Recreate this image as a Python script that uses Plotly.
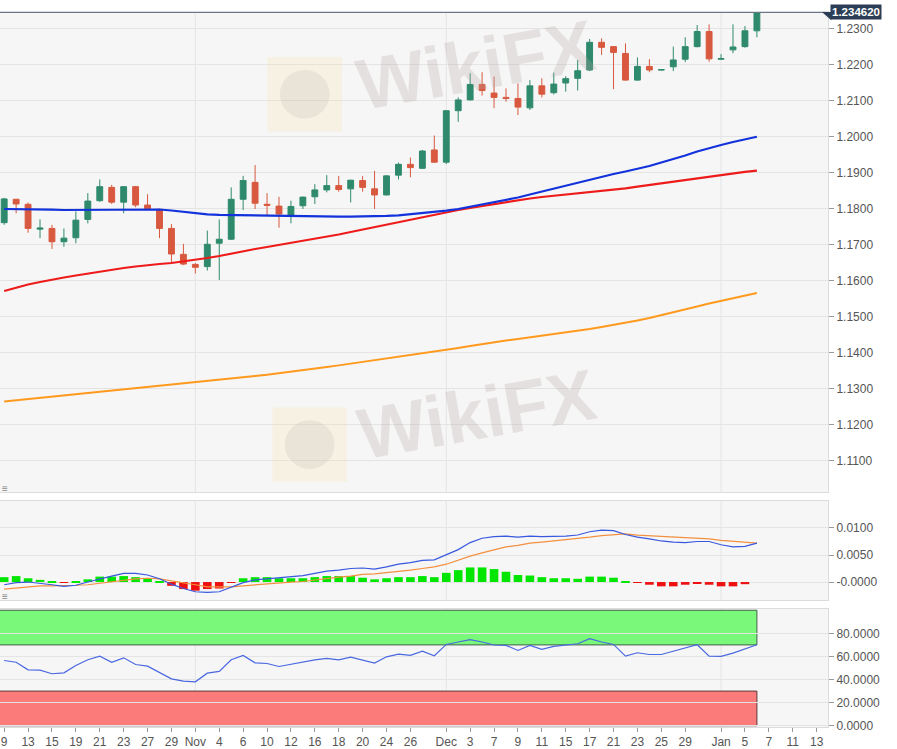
import pandas as pd
import plotly.graph_objects as go
from plotly.subplots import make_subplots

# trading days shown on the axis (weekdays, Oct 9 2020 .. Jan 14 2021)
days = pd.bdate_range("2020-10-09", "2021-01-14").strftime("%Y-%m-%d").tolist()

# EUR/USD daily candles, Oct 9 .. Jan 6
open_ = [1.1762, 1.1827, 1.1813, 1.1744, 1.1746, 1.1709, 1.1720, 1.1771, 1.1823, 1.1860,
         1.1819, 1.1862, 1.1811, 1.1799, 1.1746, 1.1674, 1.1646, 1.1640, 1.1705, 1.1716,
         1.1827, 1.1874, 1.1813, 1.1808, 1.1783, 1.1809, 1.1834, 1.1853, 1.1865, 1.1856,
         1.1879, 1.1856, 1.1839, 1.1894, 1.1924, 1.1913, 1.1964, 1.1930, 1.2073, 1.2103,
         1.2146, 1.2122, 1.2110, 1.2107, 1.2081, 1.2142, 1.2123, 1.2150, 1.2163, 1.2186,
         1.2263, 1.2251, 1.2232, 1.2158, 1.2196, 1.2186, 1.2195, 1.2216, 1.2251, 1.2293,
         1.2216, 1.2242, 1.2251, 1.2295]
high = [1.1831, 1.1828, 1.1818, 1.1771, 1.1756, 1.1746, 1.1793, 1.1844, 1.1882, 1.1867,
        1.1863, 1.1864, 1.1841, 1.1801, 1.1758, 1.1703, 1.1650, 1.1740, 1.1771, 1.1860,
        1.1892, 1.1922, 1.1844, 1.1834, 1.1823, 1.1834, 1.1869, 1.1894, 1.1892, 1.1881,
        1.1892, 1.1906, 1.1893, 1.1929, 1.1943, 1.1964, 1.2004, 1.2074, 1.2110, 1.2177,
        1.2180, 1.2168, 1.2135, 1.2149, 1.2158, 1.2163, 1.2179, 1.2169, 1.2214, 1.2272,
        1.2274, 1.2252, 1.2260, 1.2221, 1.2216, 1.2188, 1.2251, 1.2277, 1.2311, 1.2313,
        1.2230, 1.2313, 1.2308, 1.2349]
low = [1.1756, 1.1788, 1.1734, 1.1719, 1.1689, 1.1695, 1.1705, 1.1760, 1.1820, 1.1814,
       1.1788, 1.1805, 1.1797, 1.1719, 1.1652, 1.1644, 1.1621, 1.1629, 1.1603, 1.1714,
       1.1797, 1.1800, 1.1783, 1.1748, 1.1760, 1.1800, 1.1814, 1.1846, 1.1848, 1.1818,
       1.1848, 1.1800, 1.1838, 1.1882, 1.1888, 1.1911, 1.1929, 1.1925, 1.2042, 1.2102,
       1.2115, 1.2080, 1.2098, 1.2061, 1.2075, 1.2110, 1.2118, 1.2126, 1.2129, 1.2183,
       1.2228, 1.2133, 1.2157, 1.2156, 1.2180, 1.2185, 1.2183, 1.2208, 1.2249, 1.2209,
       1.2215, 1.2233, 1.2248, 1.2277]
close = [1.1828, 1.1814, 1.1746, 1.1747, 1.1709, 1.1719, 1.1769, 1.1822, 1.1862, 1.1819,
         1.1862, 1.1811, 1.1799, 1.1746, 1.1675, 1.1647, 1.1638, 1.1702, 1.1716, 1.1827,
         1.1879, 1.1816, 1.1810, 1.1786, 1.1807, 1.1833, 1.1853, 1.1865, 1.1854, 1.1880,
         1.1860, 1.1839, 1.1892, 1.1924, 1.1915, 1.1961, 1.1930, 1.2073, 1.2103, 1.2146,
         1.2129, 1.2110, 1.2107, 1.2083, 1.2142, 1.2119, 1.2147, 1.2162, 1.2184, 1.2263,
         1.2249, 1.2235, 1.2158, 1.2196, 1.2186, 1.2187, 1.2214, 1.2251, 1.2293, 1.2217,
         1.2218, 1.2250, 1.2295, 1.23462]

# moving averages drawn on the price panel
ma_blue = [1.1800, 1.1800, 1.17992, 1.17986, 1.17981, 1.17972, 1.17972, 1.17972, 1.17972, 1.17978,
           1.17986, 1.17992, 1.17992, 1.17986, 1.17958, 1.17917, 1.17875, 1.17853, 1.17839, 1.17833,
           1.17825, 1.17814, 1.17814, 1.17811, 1.17806, 1.17797, 1.17792, 1.17786, 1.17786, 1.17786,
           1.17786, 1.17792, 1.17806, 1.17825, 1.17853, 1.17889, 1.17922, 1.17953, 1.18000, 1.18064,
           1.18125, 1.18186, 1.18250, 1.18319, 1.18403, 1.18486, 1.18569, 1.18653, 1.18742, 1.18825,
           1.18903, 1.18972, 1.19042, 1.19117, 1.19194, 1.19292, 1.19381, 1.19486, 1.19597, 1.19694,
           1.19778, 1.19861, 1.19936, 1.20008]
ma_red = [1.15722, 1.15819, 1.15903, 1.15972, 1.16042, 1.16097, 1.16153, 1.16208, 1.16264, 1.16319,
          1.16361, 1.16403, 1.16444, 1.16472, 1.16500, 1.16542, 1.16597, 1.16639, 1.16694, 1.16764,
          1.16833, 1.16889, 1.16944, 1.17000, 1.17056, 1.17111, 1.17167, 1.17222, 1.17292, 1.17361,
          1.17431, 1.17500, 1.17569, 1.17639, 1.17708, 1.17778, 1.17847, 1.17917, 1.17972, 1.18028,
          1.18083, 1.18139, 1.18194, 1.18250, 1.18292, 1.18333, 1.18367, 1.18397, 1.18428, 1.18458,
          1.18494, 1.18533, 1.18575, 1.18619, 1.18667, 1.18714, 1.18758, 1.18806, 1.18853, 1.18903,
          1.18958, 1.19000, 1.19033, 1.19064]
ma_orange = [1.12653, 1.12686, 1.12722, 1.12756, 1.12792, 1.12825, 1.12861, 1.12894, 1.12931, 1.12964,
             1.12994, 1.13025, 1.13056, 1.13089, 1.13122, 1.13156, 1.13189, 1.13222, 1.13256, 1.13289,
             1.13322, 1.13358, 1.13397, 1.13436, 1.13478, 1.13519, 1.13564, 1.13608, 1.13656, 1.13703,
             1.13750, 1.13797, 1.13844, 1.13892, 1.13939, 1.13983, 1.14028, 1.14083, 1.14139, 1.14194,
             1.14250, 1.14297, 1.14344, 1.14389, 1.14433, 1.14478, 1.14522, 1.14567, 1.14617, 1.14667,
             1.14722, 1.14778, 1.14839, 1.14903, 1.14972, 1.15047, 1.15125, 1.15208, 1.15292, 1.15375,
             1.15450, 1.15522, 1.15594, 1.15667]

# MACD panel
macd = [-0.0005, -0.0001, 0.0000, -0.0002, -0.0005, -0.0008, -0.0006, 0.0000, 0.0006, 0.0011,
        0.0016, 0.0016, 0.0013, 0.0006, -0.0004, -0.0012, -0.0018, -0.0019, -0.0018, -0.0010,
        -0.0001, 0.0004, 0.0006, 0.0007, 0.0009, 0.0012, 0.0016, 0.0020, 0.0022, 0.0025,
        0.0026, 0.0024, 0.0028, 0.0033, 0.0036, 0.0040, 0.0041, 0.0050, 0.0060, 0.0073,
        0.0081, 0.0084, 0.0085, 0.0083, 0.0085, 0.0084, 0.0084, 0.0085, 0.0087, 0.0093,
        0.0096, 0.0095, 0.0088, 0.0083, 0.0080, 0.0076, 0.0074, 0.0073, 0.0075, 0.0075,
        0.0069, 0.0065, 0.0066, 0.0072]
signal = [-0.0013, -0.0011, -0.0009, -0.0007, -0.0007, -0.0007, -0.0006, -0.0005, -0.0002, 0.0000,
          0.0004, 0.0006, 0.0007, 0.0006, 0.0002, -0.0001, -0.0005, -0.0009, -0.0009, -0.0009,
          -0.0007, -0.0005, -0.0004, -0.0002, 0.0000, 0.0001, 0.0004, 0.0007, 0.0009, 0.0011,
          0.0014, 0.0015, 0.0017, 0.0019, 0.0022, 0.0025, 0.0028, 0.0033, 0.0041, 0.0048,
          0.0054, 0.0060, 0.0065, 0.0068, 0.0072, 0.0074, 0.0076, 0.0078, 0.0080, 0.0083,
          0.0086, 0.0088, 0.0089, 0.0087, 0.0086, 0.0085, 0.0083, 0.0082, 0.0081, 0.0080,
          0.0077, 0.0075, 0.0073, 0.0072]
hist = [0.0009, 0.0011, 0.0007, 0.0004, 0.0001, -0.0001, 0.0001, 0.0005, 0.0010, 0.0010,
        0.0011, 0.0009, 0.0007, 0.0001, -0.0007, -0.0013, -0.0016, -0.0013, -0.0012, -0.0001,
        0.0007, 0.0009, 0.0009, 0.0007, 0.0007, 0.0007, 0.0009, 0.0011, 0.0011, 0.0011,
        0.0008, 0.0005, 0.0007, 0.0009, 0.0009, 0.0011, 0.0009, 0.0017, 0.0022, 0.0027,
        0.0027, 0.0024, 0.0019, 0.0013, 0.0012, 0.0009, 0.0007, 0.0007, 0.0006, 0.0010,
        0.0010, 0.0008, 0.0001, -0.0001, -0.0005, -0.0008, -0.0008, -0.0005, -0.0002, -0.0005,
        -0.0008, -0.0008, -0.0004, 0.0000]

# RSI panel
rsi = [56.5, 55.0, 48.4, 48.1, 45.0, 45.8, 52.2, 57.1, 60.3, 55.0,
       58.8, 53.0, 51.6, 46.4, 40.6, 38.6, 38.0, 45.5, 47.0, 57.1,
       60.9, 54.5, 53.9, 51.3, 53.3, 55.4, 57.1, 58.3, 57.1, 59.4,
       56.5, 54.2, 59.7, 62.0, 60.9, 64.6, 60.6, 70.4, 72.5, 74.5,
       72.5, 69.9, 69.6, 65.2, 69.6, 66.1, 68.7, 69.6, 71.0, 75.4,
       72.5, 70.4, 60.3, 63.2, 61.7, 61.7, 64.3, 67.5, 70.1, 60.3,
       60.0, 62.9, 66.7, 70.1]

tick_days = ["2020-10-09", "2020-10-13", "2020-10-15", "2020-10-19", "2020-10-21", "2020-10-23",
             "2020-10-27", "2020-10-29", "2020-11-02", "2020-11-04", "2020-11-06", "2020-11-10",
             "2020-11-12", "2020-11-16", "2020-11-18", "2020-11-20", "2020-11-24", "2020-11-26",
             "2020-12-01", "2020-12-03", "2020-12-07", "2020-12-09", "2020-12-11", "2020-12-15",
             "2020-12-17", "2020-12-21", "2020-12-23", "2020-12-25", "2020-12-29", "2021-01-01",
             "2021-01-05", "2021-01-07", "2021-01-11", "2021-01-13"]
tick_text = ["9", "13", "15", "19", "21", "23", "27", "29", "Nov", "4", "6", "10", "12", "16",
             "18", "20", "24", "26", "Dec", "3", "7", "9", "11", "15", "17", "21", "23", "25",
             "29", "Jan", "5", "7", "11", "13"]
month_days = ["2020-11-02", "2020-12-01", "2021-01-01"]

x = list(range(len(close)))
tickvals = [days.index(d) for d in tick_days]
last = len(close) - 1

GREEN = "#2f8a6d"
RED = "#d8593f"
GRID = "#e4e4e4"
FONT = "Liberation Sans, Arial, sans-serif"

fig = make_subplots(rows=3, cols=1, shared_xaxes=True)

fig.add_trace(go.Candlestick(
    x=x, open=open_, high=high, low=low, close=close,
    increasing=dict(line=dict(color=GREEN, width=1), fillcolor=GREEN),
    decreasing=dict(line=dict(color=RED, width=1), fillcolor=RED),
    whiskerwidth=0, hoverinfo="skip",
), row=1, col=1)
fig.add_trace(go.Scatter(x=x, y=ma_orange, mode="lines", line=dict(color="#ff9a1e", width=2)), row=1, col=1)
fig.add_trace(go.Scatter(x=x, y=ma_red, mode="lines", line=dict(color="#ee1b1b", width=2.2)), row=1, col=1)
fig.add_trace(go.Scatter(x=x, y=ma_blue, mode="lines", line=dict(color="#1232dc", width=2.2)), row=1, col=1)

fig.add_trace(go.Bar(x=x, y=hist, width=0.72,
                     marker=dict(color=["#00e600" if v >= 0 else "#ee1010" for v in hist], line_width=0)),
              row=2, col=1)
fig.add_trace(go.Scatter(x=x, y=signal, mode="lines", line=dict(color="#f39040", width=1.2)), row=2, col=1)
fig.add_trace(go.Scatter(x=x, y=macd, mode="lines", line=dict(color="#3858e0", width=1.2)), row=2, col=1)

fig.add_trace(go.Scatter(x=x, y=rsi, mode="lines", line=dict(color="#4a68e0", width=1.2)), row=3, col=1)

xr = [-0.35, 68.95]
for ax in ["xaxis", "xaxis2", "xaxis3"]:
    fig.layout[ax].update(range=xr, showgrid=False, zeroline=False, showline=True, mirror=True,
                          linecolor="#dcdcdc", rangeslider=dict(visible=False))
fig.update_xaxes(showticklabels=False, ticks="", row=1, col=1)
fig.update_xaxes(showticklabels=False, ticks="", row=2, col=1)
fig.update_xaxes(tickmode="array", tickvals=tickvals, ticktext=tick_text, ticks="outside",
                 ticklen=4, tickcolor="#999", showticklabels=True,
                 tickfont=dict(size=12, color="#555"), row=3, col=1)

ycommon = dict(side="right", showgrid=True, gridcolor=GRID, zeroline=False, ticks="outside",
               ticklen=5, tickcolor="#999", showline=True, mirror=True, linecolor="#dcdcdc",
               tickfont=dict(size=12, color="#555"))
price_ticks = [1.11, 1.12, 1.13, 1.14, 1.15, 1.16, 1.17, 1.18, 1.19, 1.20, 1.21, 1.22, 1.23]
fig.update_layout(
    yaxis=dict(domain=[0.328, 1.0], range=[1.10125, 1.23472], tickvals=price_ticks,
               tickformat=".4f", **ycommon),
    yaxis2=dict(domain=[0.1776, 0.3161], range=[-0.00333, 0.015], tickvals=[0.0, 0.005, 0.01],
                ticktext=["-0.0000", "0.0050", "0.0100"], **ycommon),
    yaxis3=dict(domain=[0.0, 0.1657], range=[-1.1, 101.5], tickvals=[0, 20, 40, 60, 80],
                tickformat=".4f", **ycommon),
)

shapes = []
# month separators in each panel
for d in month_days:
    for xa, ya in [("x", "y"), ("x2", "y2"), ("x3", "y3")]:
        shapes.append(dict(type="line", xref=xa, yref=ya + " domain", x0=days.index(d), x1=days.index(d),
                           y0=0, y1=1, line=dict(color=GRID, width=1), layer="below"))
# RSI overbought / oversold zones
shapes.append(dict(type="rect", xref="x3", yref="y3", x0=-1, x1=last, y0=70, y1=100,
                   fillcolor="#79f879", line=dict(color="#44604a", width=1), layer="below"))
shapes.append(dict(type="rect", xref="x3", yref="y3", x0=-1, x1=last, y0=0, y1=30,
                   fillcolor="#fb7a7a", line=dict(color="#5a3a3a", width=1), layer="below"))
# current price line
shapes.append(dict(type="line", xref="paper", yref="y", x0=0, x1=1, y0=close[-1], y1=close[-1],
                   line=dict(color="#66788a", width=1.5)))
# pointer of the price tag
tip = 0.0007
shapes.append(dict(type="path", xref="paper", yref="y",
                   path=f"M 0.993,{close[-1]} L 1.004,{close[-1] + tip * 3.1} L 1.004,{close[-1] - tip * 3.1} Z",
                   fillcolor="#2c3e55", line=dict(width=0)))
# watermark logos
for cx, cy in [(0.368, 0.885), (0.374, 0.395)]:
    shapes.append(dict(type="rect", xref="paper", yref="paper", x0=cx - 0.045, x1=cx + 0.045,
                       y0=cy - 0.052, y1=cy + 0.052, fillcolor="rgba(250,220,140,0.18)",
                       line=dict(width=0), layer="above"))
    shapes.append(dict(type="circle", xref="paper", yref="paper", x0=cx - 0.03, x1=cx + 0.03,
                       y0=cy - 0.034, y1=cy + 0.034, fillcolor="rgba(170,160,160,0.16)",
                       line=dict(width=0), layer="above"))

mark = dict(xref="paper", yref="paper", xanchor="center", yanchor="middle", showarrow=False,
            text="<b>WikiFX</b>", textangle=-10,
            font=dict(size=72, color="rgba(185,165,165,0.27)", family=FONT))
annotations = [
    dict(xref="paper", yref="y", x=1.0, y=close[-1], xanchor="left", xshift=2, showarrow=False,
         text=f"<b>{close[-1]:.6f}</b>", bgcolor="#2c3e55", borderpad=1,
         font=dict(color="white", size=11.5, family=FONT)),
    dict(mark, x=0.574, y=0.926),
    dict(mark, x=0.576, y=0.438),
    dict(xref="paper", yref="paper", x=0.0, y=0.3235, xanchor="left", showarrow=False, text="≡",
         font=dict(size=10, color="#888", family=FONT)),
    dict(xref="paper", yref="paper", x=0.0, y=0.1715, xanchor="left", showarrow=False, text="≡",
         font=dict(size=10, color="#888", family=FONT)),
]

fig.update_layout(
    width=897, height=749,
    margin=dict(l=0, r=69, t=12, b=22),
    paper_bgcolor="white", plot_bgcolor="#f6f6f6",
    showlegend=False, bargap=0.28,
    font=dict(family=FONT, size=12, color="#555"),
    shapes=shapes, annotations=annotations,
    hovermode=False,
)

# the page's default body margin would shift the chart; drop it
fig.write_html("out.html", config={"displayModeBar": False},
               post_script="document.body.style.margin='0px';")
